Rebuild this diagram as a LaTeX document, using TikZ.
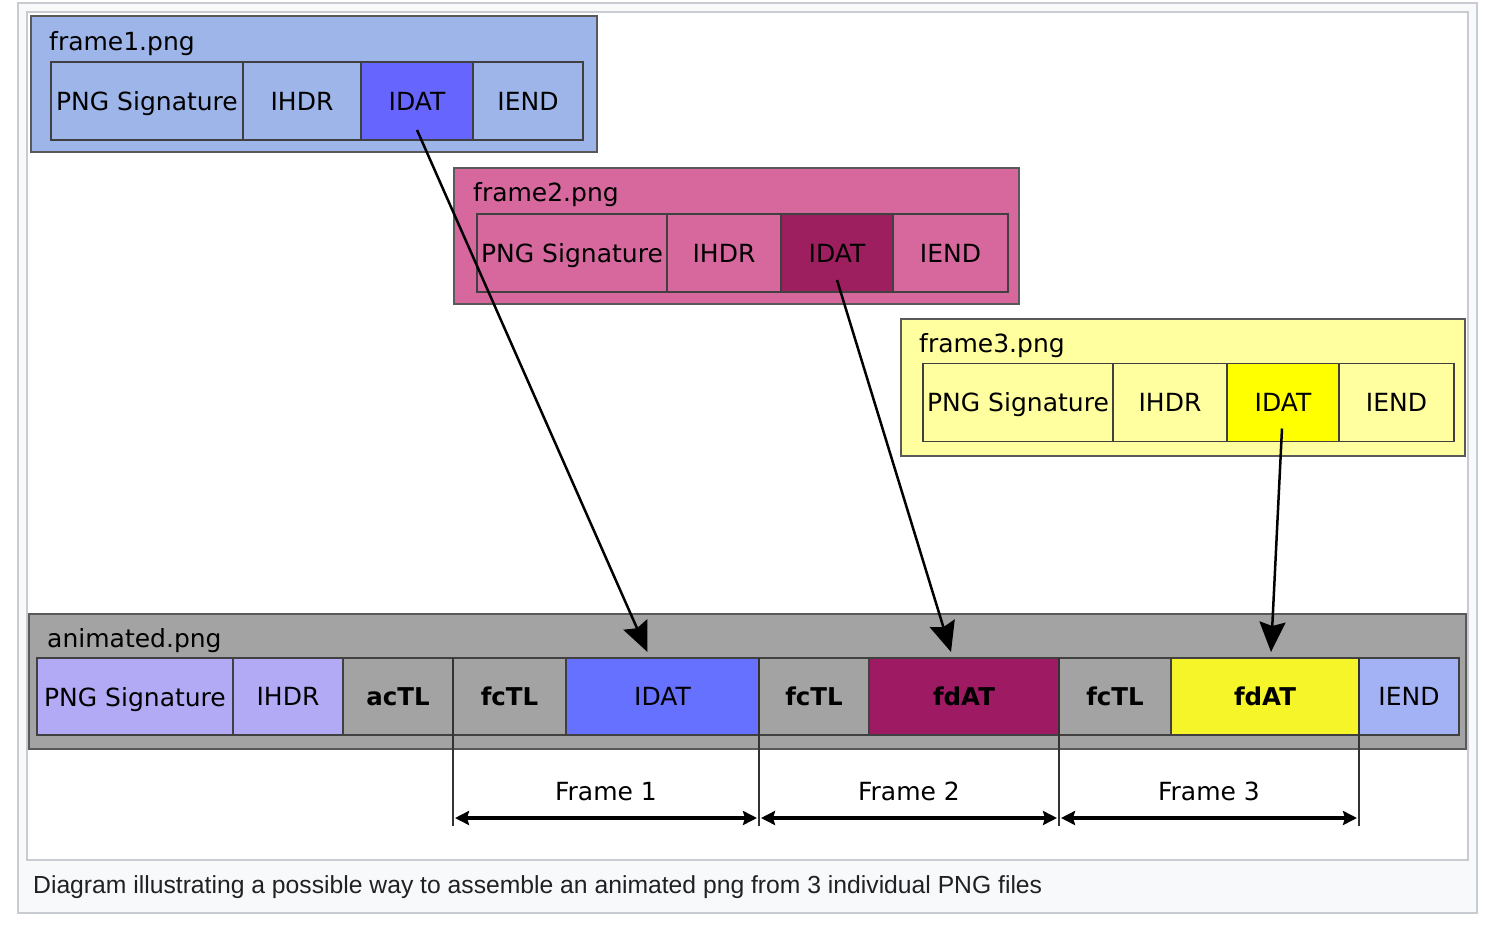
\documentclass[tikz,border=0pt]{standalone}
\usepackage{fontspec}
\setmainfont{DejaVu Sans}
\newfontfamily\capfont{Liberation Sans}
\usetikzlibrary{positioning,calc,arrows.meta}

\definecolor{onebg}{RGB}{157,181,232}
\definecolor{onedat}{RGB}{102,102,255}
\definecolor{twobg}{RGB}{214,104,158}
\definecolor{twodat}{RGB}{158,31,95}
\definecolor{threebg}{RGB}{255,255,160}
\definecolor{threedat}{RGB}{255,255,0}
\definecolor{anibg}{RGB}{163,163,163}
\definecolor{anilav}{RGB}{178,170,245}
\definecolor{anidat}{RGB}{102,114,255}
\definecolor{anifdtwo}{RGB}{158,26,99}
\definecolor{anifdthree}{RGB}{245,245,42}
\definecolor{aniend}{RGB}{163,178,245}
\definecolor{capbg}{RGB}{248,249,250}
\definecolor{capline}{RGB}{200,204,209}
\definecolor{captext}{RGB}{32,33,34}

\begin{document}
\begin{tikzpicture}
  [x=1pt,y=-1pt,font=\fontsize{25}{29}\selectfont,
   filebox/.style={draw=black!65,line width=1.5pt,minimum height=136,inner sep=0,outer sep=0},
   cell/.style={draw=black!75,line width=1.5pt,minimum height=78,inner sep=0,outer sep=0,text depth=0pt},
   chunk/.style={cell,font=\fontsize{24.5}{29}\selectfont\bfseries},
   title/.style={anchor=base west,inner sep=0},
   copyarrow/.style={line width=2.5pt,-{Stealth[length=30pt,width=26pt,inset=4pt]}},
   spanarrow/.style={line width=3.5pt,shorten <=2pt,shorten >=2pt,
     {Stealth[length=14pt,width=14pt,inset=2pt]}-{Stealth[length=14pt,width=14pt,inset=2pt]}}]
  \useasboundingbox (0,0) rectangle (1486,928);
  \draw[draw=capline,fill=capbg,line width=1.5pt] (18,3) rectangle (1477,913);
  \draw[draw=capline,fill=white,line width=1.5pt] (27,12) rectangle (1468,860);
  \node[anchor=base west,inner sep=0,text=captext,font=\capfont\fontsize{24.7}{29}\selectfont] (caption) at (33,893)
    {Diagram illustrating a possible way to assemble an animated png from 3 individual PNG files};

  % frame1.png
  \node[filebox,fill=onebg,minimum width=566] (file1) at (314,84) {};
  \node[title] (name1) at (49,51) {frame1.png};
  \node[cell,fill=onebg,minimum width=192,anchor=west] (sig1) at (51,101) {PNG Signature};
  \node[cell,fill=onebg,minimum width=118,right=0pt of sig1] (ihdr1) {IHDR};
  \node[cell,fill=onedat,minimum width=112,right=0pt of ihdr1] (idat1) {IDAT};
  \node[cell,fill=onebg,minimum width=110,right=0pt of idat1] (iend1) {IEND};

  % frame2.png
  \node[filebox,fill=twobg,minimum width=565] (file2) at (736.5,236) {};
  \node[title] (name2) at (473,202) {frame2.png};
  \node[cell,fill=twobg,minimum width=190,anchor=west] (sig2) at (477,253) {PNG Signature};
  \node[cell,fill=twobg,minimum width=114,right=0pt of sig2] (ihdr2) {IHDR};
  \node[cell,fill=twodat,minimum width=112,right=0pt of ihdr2] (idat2) {IDAT};
  \node[cell,fill=twobg,minimum width=115,right=0pt of idat2] (iend2) {IEND};

  % frame3.png
  \node[filebox,fill=threebg,minimum width=564,minimum height=137] (file3) at (1183,387.5) {};
  \node[title] (name3) at (919,352) {frame3.png};
  \node[cell,fill=threebg,minimum width=190,anchor=west] (sig3) at (923,402.5) {PNG Signature};
  \node[cell,fill=threebg,minimum width=114,right=0pt of sig3] (ihdr3) {IHDR};
  \node[cell,fill=threedat,minimum width=112,right=0pt of ihdr3] (idat3) {IDAT};
  \node[cell,fill=threebg,minimum width=115,right=0pt of idat3] (iend3) {IEND};

  % animated.png
  \node[filebox,fill=anibg,minimum width=1437,minimum height=135] (anim) at (747.5,681.5) {};
  \node[title] (name4) at (47,647) {animated.png};
  \node[cell,fill=anilav,minimum width=196,minimum height=77,anchor=west] (asig) at (37,696.5) {PNG Signature};
  \node[cell,fill=anilav,minimum width=110,minimum height=77,right=0pt of asig] (aihdr) {IHDR};
  \node[chunk,fill=anibg,minimum width=110,minimum height=77,right=0pt of aihdr] (actl) {acTL};
  \node[chunk,fill=anibg,minimum width=113,minimum height=77,right=0pt of actl] (fctl1) {fcTL};
  \node[cell,fill=anidat,minimum width=193,minimum height=77,right=0pt of fctl1] (aidat) {IDAT};
  \node[chunk,fill=anibg,minimum width=110,minimum height=77,right=0pt of aidat] (fctl2) {fcTL};
  \node[chunk,fill=anifdtwo,minimum width=190,minimum height=77,right=0pt of fctl2] (fdat2) {fdAT};
  \node[chunk,fill=anibg,minimum width=112,minimum height=77,right=0pt of fdat2] (fctl3) {fcTL};
  \node[chunk,fill=anifdthree,minimum width=188,minimum height=77,right=0pt of fctl3] (fdat3) {fdAT};
  \node[cell,fill=aniend,minimum width=100,minimum height=77,right=0pt of fdat3] (aiend) {IEND};

  % frame spans
  \foreach \a in {fctl1,fctl2,fctl3,aiend}
    \draw[black!80,line width=2pt] (\a.north west) -- ++(0,168);
  \foreach \a/\b/\n in {fctl1/fctl2/1,fctl2/fctl3/2,fctl3/aiend/3}
    \draw[spanarrow] ($(\a.south west)+(0,83)$) -- node[above=15pt,inner sep=0] {Frame \n} ($(\b.south west)+(0,83)$);

  % copied image data
  \draw[copyarrow] ([yshift=10pt]idat1.south) -- ([xshift=-15pt,yshift=6pt]aidat.north);
  \draw[copyarrow] ([yshift=12pt]idat2.south) -- ([xshift=-13pt,yshift=6pt]fdat2.north);
  \draw[copyarrow] ([xshift=-1pt,yshift=13pt]idat3.south) -- ([xshift=6pt,yshift=6pt]fdat3.north);
\end{tikzpicture}
\end{document}
